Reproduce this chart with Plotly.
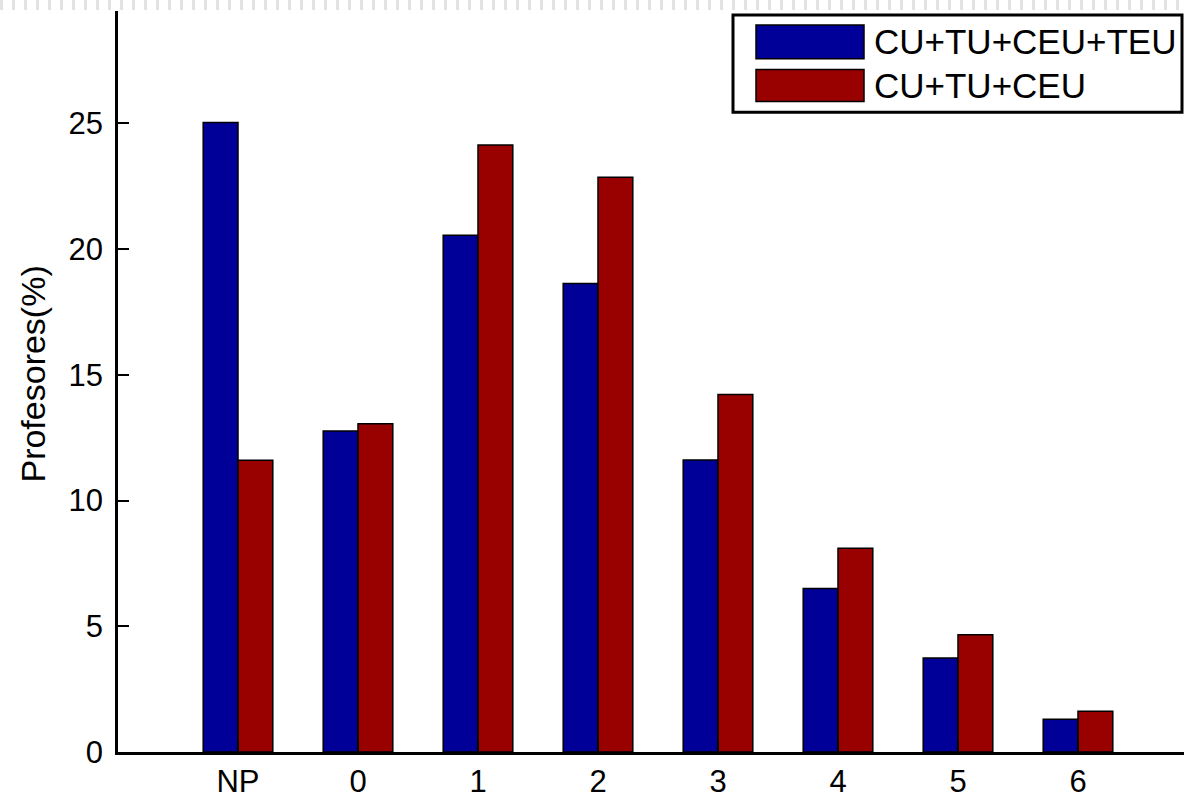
import plotly.graph_objects as go

categories = ["NP", "0", "1", "2", "3", "4", "5", "6"]
series_names = ["CU+TU+CEU+TEU", "CU+TU+CEU"]
blue_values = [25.03, 12.76, 20.55, 18.63, 11.61, 6.50, 3.74, 1.30]
red_values = [11.6, 13.05, 24.13, 22.85, 14.21, 8.10, 4.66, 1.62]
y_ticks = [0, 5, 10, 15, 20, 25]

BLUE = "#000099"
RED = "#990000"
FONT = "Liberation Sans, Arial, Helvetica, sans-serif"

W, H = 1184, 799
L, R, T, B = 118, 0, 11, 42
pw, ph = W - L - R, H - T - B

def px(xp):
    return (xp - L) / pw

def py(yp):
    return (H - B - yp) / ph

xpos = list(range(len(categories)))

fig = go.Figure()
for name, vals, col in [(series_names[0], blue_values, BLUE), (series_names[1], red_values, RED)]:
    fig.add_trace(go.Bar(
        x=xpos, y=vals, name=name, marker=dict(color=col, line=dict(color="black", width=1.5)),
        showlegend=False,
    ))

x_end = -1 + pw / 120.0
y_end = ph / 25.32

fig.update_layout(
    width=W, height=H,
    margin=dict(l=L, r=R, t=T, b=B, pad=0),
    paper_bgcolor="white", plot_bgcolor="white",
    barmode="group", bargap=0.42, bargroupgap=0,
    font=dict(family=FONT, size=32, color="black"),
    xaxis=dict(
        range=[-1, x_end], tickmode="array", tickvals=xpos, ticktext=categories,
        showline=True, linecolor="black", linewidth=2.5, ticks="inside", ticklen=11,
        tickwidth=2, tickcolor="black", showgrid=False, zeroline=False,
        tickfont=dict(family=FONT, size=31, color="black"),
    ),
    yaxis=dict(
        range=[0, y_end], tickmode="array", tickvals=y_ticks,
        showline=True, linecolor="black", linewidth=2.5, ticks="inside", ticklen=11,
        tickwidth=2, tickcolor="black", showgrid=False, zeroline=False,
        tickfont=dict(family=FONT, size=31, color="black"), ticklabelstandoff=6,
    ),
)

# y-axis title
fig.add_annotation(
    text="Profesores(%)", xref="paper", yref="paper", x=px(33), y=py(377),
    xanchor="center", yanchor="middle", textangle=-90, showarrow=False,
    font=dict(family=FONT, size=34, color="black"),
)

# faint dashed strip at very top
fig.add_shape(type="line", xref="paper", yref="paper", x0=px(0), x1=px(W), y0=py(5), y1=py(5),
              line=dict(color="#e2e2e2", width=10, dash="3px,9px"), layer="below")

# custom legend
fig.add_shape(type="rect", xref="paper", yref="paper", x0=px(733), x1=px(1182), y0=py(113), y1=py(15),
              line=dict(color="black", width=3), fillcolor="white")
swatches = [(BLUE, 25, 59, 42), (RED, 70, 102, 86)]
for (col, y0, y1, yc), name in zip(swatches, series_names):
    fig.add_shape(type="rect", xref="paper", yref="paper", x0=px(756), x1=px(864), y0=py(y1), y1=py(y0),
                  line=dict(color="black", width=1.5), fillcolor=col)
    fig.add_annotation(text=name, xref="paper", yref="paper", x=px(872), y=py(yc),
                       xanchor="left", yanchor="middle", showarrow=False,
                       font=dict(family=FONT, size=35, color="black"))

fig.write_html(
    "out.html",
    config={"displayModeBar": False},
    post_script=(
        "document.documentElement.style.overflow='hidden';"
        "document.body.style.margin='0';document.body.style.overflow='hidden';"
    ),
)
